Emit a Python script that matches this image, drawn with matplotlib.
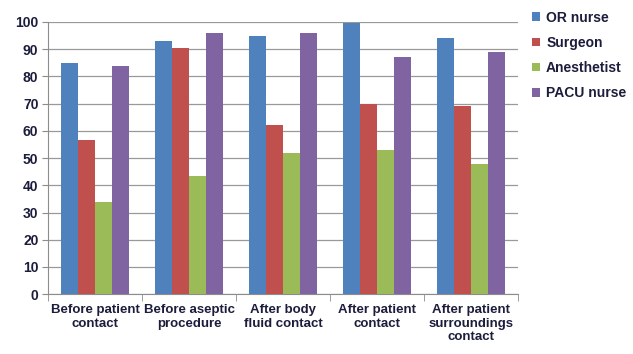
import matplotlib
matplotlib.use("Agg")
import matplotlib.pyplot as plt
import numpy as np

categories = ["Before patient\ncontact", "Before aseptic\nprocedure", "After body\nfluid contact",
              "After patient\ncontact", "After patient\nsurroundings\ncontact"]
series_names = ["OR nurse", "Surgeon", "Anesthetist", "PACU nurse"]
or_nurse = [85, 93, 95, 99.5, 94]
surgeon = [56.5, 90.5, 62, 70, 69]
anesthetist = [34, 43.5, 52, 53, 48]
pacu_nurse = [84, 96, 96, 87, 89]
yticks = list(range(0, 101, 10))

colors = ["#4F81BD", "#C0504D", "#9BBB59", "#8064A2"]
text_color = "#1c1c3c"

plt.rcParams["font.family"] = ["Liberation Sans", "DejaVu Sans"]

fig = plt.figure(figsize=(6.33, 3.54), dpi=100)
ax = fig.add_axes([0.076, 0.169, 0.742, 0.769])

x = np.arange(len(categories))
width = 0.18
for i, (vals, name) in enumerate(zip([or_nurse, surgeon, anesthetist, pacu_nurse], series_names)):
    ax.bar(x + (i - 1.5) * width, vals, width, color=colors[i], label=name, zorder=3)

ax.set_xlim(-0.5, len(categories) - 0.5)
ax.set_ylim(0, 100)
ax.set_yticks(yticks)
ax.yaxis.grid(True, color="#999999", linewidth=0.9, zorder=0)
for s in ["top", "right"]:
    ax.spines[s].set_visible(False)
ax.spines["left"].set_color("#8c8c8c")
ax.spines["bottom"].set_color("#8c8c8c")

ax.set_xticks(x)
ax.set_xticklabels(categories, fontsize=9.5, fontweight="bold", color=text_color, linespacing=1.2)
ax.tick_params(axis="x", length=0, pad=7)
ax.set_xticks(np.arange(-0.5, len(categories), 1), minor=True)
ax.tick_params(axis="x", which="minor", length=5, color="#8c8c8c", direction="out")
ax.tick_params(axis="y", length=4, color="#8c8c8c", direction="out", labelsize=10,
               labelcolor=text_color, pad=3)
for lbl in ax.get_yticklabels():
    lbl.set_fontweight("bold")

leg = fig.legend(loc="upper left", bbox_to_anchor=(0.82, 1.005), frameon=False,
                 handlelength=0.6, handleheight=0.6, handletextpad=0.45,
                 labelspacing=0.8, prop={"size": 10, "weight": "bold"})
for t in leg.get_texts():
    t.set_color(text_color)

fig.savefig("out.png", dpi=100)
